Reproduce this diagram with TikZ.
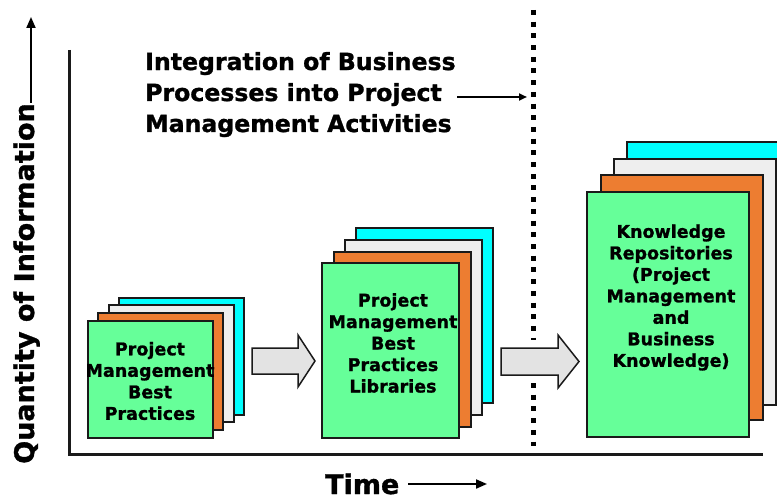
\documentclass[tikz,border=0pt]{standalone}
\usepackage{fontspec}
\setmainfont{DejaVu Sans}[BoldFeatures={FakeBold=1.2}]
\usetikzlibrary{arrows.meta}
\definecolor{pagegreen}{HTML}{66FF99}
\definecolor{pageorange}{HTML}{ED7D31}
\definecolor{pagegray}{HTML}{EEEEEE}
\definecolor{pagecyan}{HTML}{00FFFF}
\definecolor{blockgray}{HTML}{E3E3E3}
\definecolor{ink}{HTML}{1A1A1A}

\begin{document}
\begin{tikzpicture}[x=1pt,y=-1pt,
  page/.style={draw=ink, line width=2pt, inner sep=0pt, outer sep=0pt},
  pagetext/.style={align=center, inner sep=0pt, font=\fontsize{17.5}{21.5}\selectfont\bfseries},
  block/.style={draw=ink, fill=blockgray, line width=1.5pt, line join=miter},
  axisline/.style={line width=3pt, draw=ink},
  axislabel/.style={inner sep=0pt, font=\fontsize{27}{30}\selectfont\bfseries},
  axisarrow/.style={line width=2pt, -{Triangle[length=11pt,width=9pt]}},
  notearrow/.style={line width=2pt, -{Triangle[length=8pt,width=7pt]}},
  divider/.style={line width=5pt, dash pattern=on 5pt off 6.7pt}]
\useasboundingbox (0,0) rectangle (777,500);

% axes
\coordinate (origin) at (69,454);
\coordinate (ytop) at (69,50);
\coordinate (xend) at (763,454);
\draw[axisline] (ytop) -- (origin) -- (xend);

% dotted divider, broken where the block arrow passes
\coordinate (d1) at (533,10);
\coordinate (d2) at (533,340);
\coordinate (d3) at (533,383);
\coordinate (d4) at (533,446);
\draw[divider] (d1) -- (d2);
\draw[divider] (d3) -- (d4);

% first stack of pages
\node[page, fill=pagecyan,   minimum width=125pt, minimum height=117pt] (s1d) at (181.5,356) {};
\node[page, fill=pagegray,   minimum width=125pt, minimum height=117pt] (s1c) at (171,363.5) {};
\node[page, fill=pageorange, minimum width=125pt, minimum height=117pt] (s1b) at (160.5,371) {};
\node[page, fill=pagegreen,  minimum width=125pt, minimum height=117pt] (s1a) at (150,379) {};
\node[pagetext] (t1) at (150,381) {Project\\Management\\Best\\Practices};

% second stack of pages
\node[page, fill=pagecyan,   minimum width=137pt, minimum height=175pt] (s2d) at (424.5,315) {};
\node[page, fill=pagegray,   minimum width=137pt, minimum height=175pt] (s2c) at (413.5,327) {};
\node[page, fill=pageorange, minimum width=137pt, minimum height=175pt] (s2b) at (402.5,339) {};
\node[page, fill=pagegreen,  minimum width=137pt, minimum height=175pt] (s2a) at (390.5,350.5) {};
\node[pagetext] (t2) at (393,343) {Project\\Management\\Best\\Practices\\Libraries};

% third stack of pages
\node[page, fill=pagecyan,   minimum width=162pt, minimum height=245pt] (s3d) at (708,265) {};
\node[page, fill=pagegray,   minimum width=162pt, minimum height=245pt] (s3c) at (695,282) {};
\node[page, fill=pageorange, minimum width=162pt, minimum height=245pt] (s3b) at (682,297.5) {};
\node[page, fill=pagegreen,  minimum width=162pt, minimum height=245pt] (s3a) at (668,314.5) {};
\node[pagetext] (t3) at (671,297.5) {Knowledge\\Repositories\\(Project\\Management\\and\\Business\\Knowledge)};

% block arrows between the stacks
\draw[block] (252,348) -- (298,348) -- (298,335) -- (315,361) -- (298,387) -- (298,374) -- (252,374) -- cycle;
\draw[block] (501,348) -- (558,348) -- (558,335) -- (579,361.5) -- (558,388) -- (558,375) -- (501,375) -- cycle;

% note pointing at the divider (anchored at the baseline of its last line)
\node[anchor=base west, align=left, inner sep=0pt,
      font=\fontsize{23.6}{31}\selectfont\bfseries] (note) at (145,132)
  {Integration of Business\\Processes into Project\\Management Activities};
\coordinate (notefrom) at (457,97);
\coordinate (notetip) at (527,97);
\draw[notearrow] (notefrom) -- (notetip);

% axis labels
\node[axislabel, rotate=90, anchor=base] (ylab) at (34,283.5) {Quantity of Information};
\coordinate (yfrom) at (31,103);
\coordinate (ytip) at (31,17);
\draw[axisarrow] (yfrom) -- (ytip);

\node[axislabel, anchor=base west] (xlab) at (325,494) {Time};
\coordinate (xfrom) at (408,484);
\coordinate (xtip) at (487,484);
\draw[axisarrow] (xfrom) -- (xtip);
\end{tikzpicture}
\end{document}
